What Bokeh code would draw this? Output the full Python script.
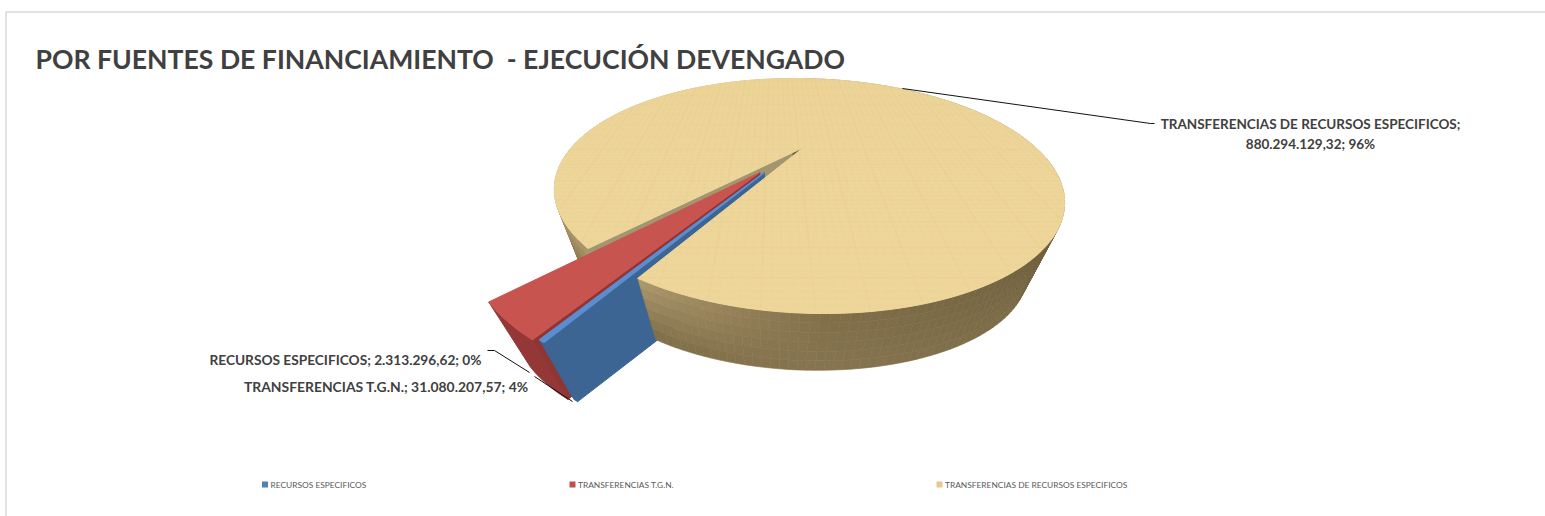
import numpy as np
from bokeh.plotting import figure
from bokeh.models import Range1d
from bokeh.core.properties import value
from bokeh.embed import file_html
from bokeh.resources import INLINE

title = "POR FUENTES DE FINANCIAMIENTO  - EJECUCIÓN DEVENGADO"
categories = ["RECURSOS ESPECIFICOS", "TRANSFERENCIAS T.G.N.", "TRANSFERENCIAS DE RECURSOS ESPECIFICOS"]
values = [2313296.62, 31080207.57, 880294129.32]
value_labels = ["2.313.296,62", "31.080.207,57", "880.294.129,32"]
pct_labels = ["0%", "4%", "96%"]

# ---- projection of the pie plane (layout constants)
CX, CY, A, B, C, K = 803.0, 147.0, 97.5, 232.0, -12.0, 0.4128
VX, VY, S, S_EXPLODED = 776.0, 750.0, 0.87, 0.855
START = np.radians(239.7)
RED_OFFSET = (-0.182, -0.232)
BLUE_OFFSET = (-0.165, -0.232)


def top(x, y):
    w = 1 + K * np.asarray(y)
    return CX + (B * np.asarray(x) + C * np.asarray(y)) / w, CY - A * np.asarray(y) / w


def down(sx, sy, t=1.0, s=S):
    f = 1 - (1 - s) * t
    return VX + f * (np.asarray(sx) - VX), VY + f * (np.asarray(sy) - VY)


fracs = np.array(values) / sum(values) * 2 * np.pi
a0 = START
a1 = a0 - fracs[0]          # blue
a2 = a1 - fracs[1]          # red
a3 = a2 - fracs[2]          # tan, closes on START


def arc(b, e, n=None, ox=0.0, oy=0.0):
    n = n or max(3, int(abs(e - b) / np.radians(1)) + 2)
    t = np.linspace(b, e, n)
    return top(ox + np.cos(t), oy + np.sin(t))


def slice_top(b, e, ox=0.0, oy=0.0):
    ax, ay = arc(b, e, ox=ox, oy=oy)
    tx, ty = top(ox, oy)
    return np.r_[tx, ax], np.r_[ty, ay]


def cut_face(ang, ox=0.0, oy=0.0, s=S):
    tx, ty = top(np.array([ox, ox + np.cos(ang)]), np.array([oy, oy + np.sin(ang)]))
    bx, by = down(tx, ty, s=s)
    return np.r_[tx, bx[::-1]], np.r_[ty, by[::-1]]


def rim_wall(b, e, ox=0.0, oy=0.0, s=S):
    ax, ay = arc(b, e, ox=ox, oy=oy)
    bx, by = down(ax, ay, s=s)
    return np.r_[ax, bx[::-1]], np.r_[ay, by[::-1]]


def hexc(c):
    return "#%02x%02x%02x" % tuple(int(max(0, min(255, round(v)))) for v in c)


# wall colour stops: angle (deg), colour at the top edge, colour at the bottom edge
W_ANG = [90, 200, 240, 270, 310, 360, 450]
W_UP = np.array([[170, 150, 105], [170, 150, 105], [176, 155, 110], [128, 110, 73], [112, 96, 62], [104, 89, 57], [104, 89, 57]])
W_LO = np.array([[120, 103, 68], [120, 103, 68], [126, 108, 72], [134, 117, 80], [124, 107, 70], [108, 92, 60], [108, 92, 60]])


def shaded_wall(b, e):
    xs, ys, cs = [], [], []
    ts = np.linspace(b, e, int(abs(e - b) / np.radians(1.5)) + 2)
    bands = 6
    for i in range(len(ts) - 1):
        deg = np.degrees(ts[i])
        up = np.array([np.interp(deg, W_ANG, W_UP[:, k]) for k in range(3)])
        lo = np.array([np.interp(deg, W_ANG, W_LO[:, k]) for k in range(3)])
        for j in range(bands):
            t0, t1 = j / bands, (j + 1) / bands
            q0, q1 = top(np.cos(ts[i:i + 2]), np.sin(ts[i:i + 2]))
            x0, y0 = down(q0, q1, t0)
            x1, y1 = down(q0, q1, t1)
            xs.append(list(x0) + list(x1[::-1]))
            ys.append(list(y0) + list(y1[::-1]))
            cs.append(hexc(up + (lo - up) * (t0 + t1) / 2))
    return xs, ys, cs


p = figure(width=1545, height=516, x_range=Range1d(0, 1545), y_range=Range1d(516, 0),
           output_backend="svg", toolbar_location=None, min_border=0,
           background_fill_color="white", border_fill_color="white")
p.axis.visible = False
p.grid.visible = False
p.outline_line_color = None

# chart frame
p.line([5.5, 5.5, 1545], [516, 11.5, 11.5], line_color="#d9d9d9", line_width=1.5)

# tan wall behind the exploded slices
xs, ys, cs = shaded_wall(np.radians(90), a2)
p.patches(xs, ys, fill_color=cs, line_color=cs, line_width=0.6)
fx, fy = cut_face(a2)
p.patch(fx, fy, fill_color="#a39570", line_color="#a39570")

# red slice
rx, ry = RED_OFFSET
fx, fy = rim_wall(a1, a2, rx, ry, s=S_EXPLODED)
p.patch(fx, fy, fill_color="#933836", line_color="#933836")
fx, fy = cut_face(a1, rx, ry, s=S_EXPLODED)
p.patch(fx, fy, fill_color="#8f3533", line_color="#8f3533")
fx, fy = slice_top(a1, a2, rx, ry)
p.patch(fx, fy, fill_color="#c85450", line_color="#c85450")

# blue slice faces
bx, by = BLUE_OFFSET
fx, fy = rim_wall(a0, a1, bx, by, s=S_EXPLODED)
p.patch(fx, fy, fill_color="#3c6594", line_color="#3c6594")
fx, fy = cut_face(a0, bx, by, s=S_EXPLODED)
p.patch(fx, fy, fill_color="#3c6594", line_color="#3c6594")

# tan wall in front
xs, ys, cs = shaded_wall(a0, np.radians(450))
p.patches(xs, ys, fill_color=cs, line_color=cs, line_width=0.6)

# tan top
fx, fy = slice_top(a2, a3)
p.patch(fx, fy, fill_color="#eed69b", line_color="#eed69b")

# wood grain in the plane of the pie, skipping the gap
for step, alpha, width in ((0.028, 0.10, 0.8), (0.14, 0.07, 2.0)):
    gx, gy = [], []
    for g in np.arange(-1, 1.0001, step):
        for horiz in (False, True):
            u = np.linspace(-1, 1, 220)
            x = np.full_like(u, g) if not horiz else u
            y = u if not horiz else np.full_like(u, g)
            ang = np.mod(np.arctan2(y, x), 2 * np.pi)
            bad = (x * x + y * y > 0.995) | ((ang > a2) & (ang < a0))
            sx, sy = top(x, y)
            sx = sx.copy(); sy = sy.copy()
            sx[bad] = np.nan; sy[bad] = np.nan
            gx += list(sx) + [np.nan]; gy += list(sy) + [np.nan]
    p.line(gx, gy, line_color="#dcbc78", line_alpha=alpha, line_width=width)

# blue top
fx, fy = slice_top(a0, a1, bx, by)
p.patch(fx, fy, fill_color="#5b8ed0", line_color="#5b8ed0", line_width=1.5)

# leaders
p.line([902, 1150, 1154], [88, 123, 123], line_color="#111111", line_width=1)
p.line([487, 494, 529], [350, 350, 372], line_color="#111111", line_width=1)
p.line([534, 572], [376, 401], line_color="#111111", line_width=1)

FONT = value("Lato")
DARK = "#404040"
p.text([35], [58], text=[title.replace("  ", "\u00a0 ")], text_font=FONT, text_font_style="bold", text_font_size="26.6px",
       text_color=DARK, text_baseline="middle", text_align="left")

p.text([1310], [123], text=[categories[2] + ";"], text_font=FONT, text_font_style="bold",
       text_font_size="13.5px", text_color=DARK, text_baseline="middle", text_align="center")
p.text([1310], [143], text=[f"{value_labels[2]}; {pct_labels[2]}"], text_font=FONT, text_font_style="bold",
       text_font_size="13.5px", text_color=DARK, text_baseline="middle", text_align="center")
p.text([481], [359], text=[f"{categories[0]}; {value_labels[0]}; {pct_labels[0]}"], text_font=FONT,
       text_font_style="bold", text_font_size="13.7px", text_color=DARK, text_baseline="middle", text_align="right")
p.text([528], [386], text=[f"{categories[1]}; {value_labels[1]}; {pct_labels[1]}"], text_font=FONT,
       text_font_style="bold", text_font_size="13.9px", text_color=DARK, text_baseline="middle", text_align="right")

# legend
leg_x = [264.5, 572, 939]
leg_c = ["#4f81bd", "#c0504d", "#e8c98a"]
p.rect(leg_x, [484] * 3, width=6, height=6, fill_color=leg_c, line_color=None)
p.text([v + 5.5 for v in leg_x], [484] * 3, text=categories, text_font=FONT, text_font_size="8.4px",
       text_color="#595959", text_baseline="middle", text_align="left")

open("out.html", "w").write(file_html(p, INLINE))
